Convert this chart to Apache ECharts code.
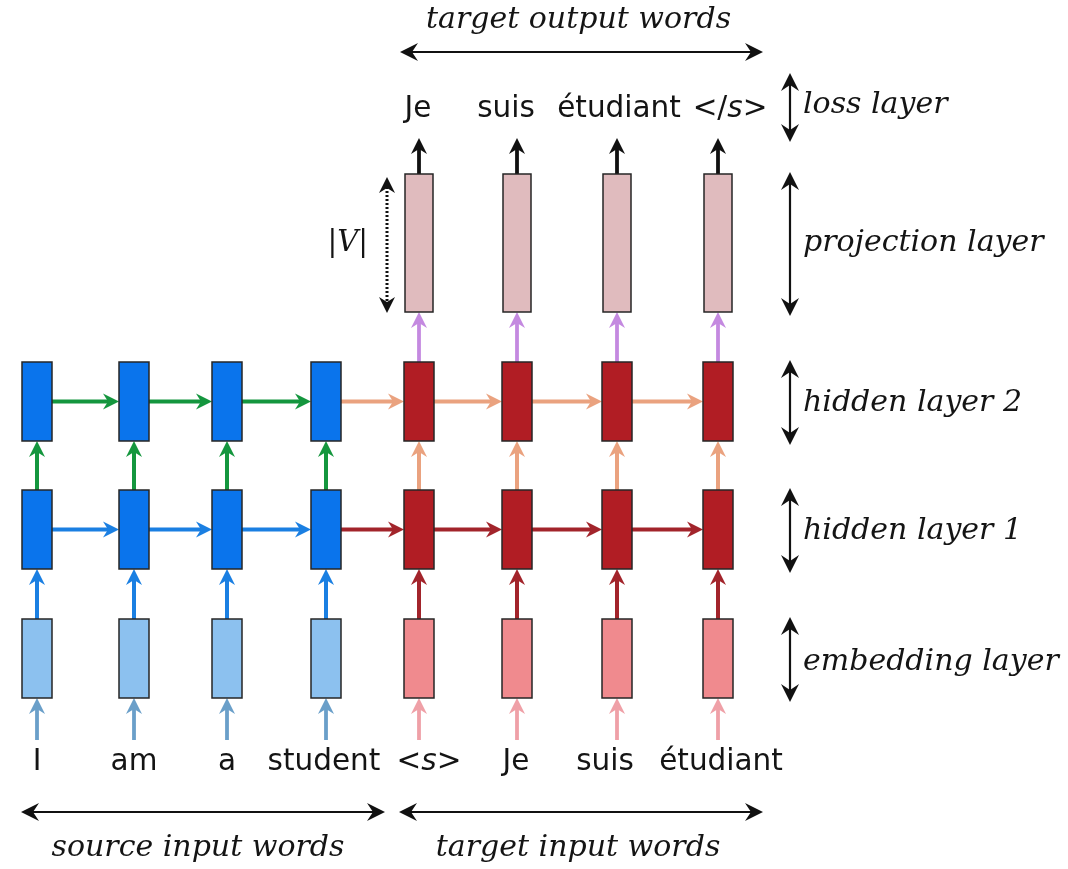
<!DOCTYPE html>
<html><head><meta charset="utf-8">
<script src="https://cdn.jsdelivr.net/npm/echarts@6/dist/echarts.min.js"></script>
<style>html,body{margin:0;padding:0;background:#fff}#c{width:1068px;height:869px}</style>
</head><body><div id="c"></div>
<script>
// ---------- data ----------
const sourceWords = ['I', 'am', 'a', 'student'];
const targetInputWords = ['<s>', 'Je', 'suis', 'étudiant'];
const targetOutputWords = ['Je', 'suis', 'étudiant', '</s>'];
const layerNames = ['embedding layer', 'hidden layer 1', 'hidden layer 2', 'projection layer', 'loss layer'];
// vertical extent of each layer (diagram units, top→bottom)
const layerTop = [619, 490, 362, 174, 73];
const layerBottom = [698, 569, 441, 312, 140];
const groupTitles = ['source input words', 'target input words', 'target output words'];
const vocabLabel = '|V|';

// ---------- layout (diagram units) ----------
const L = {
  w: 1068, h: 869,
  colX: [37, 134, 227, 326, 419, 517, 617, 718],
  inWordX: [37, 134, 227, 324, 429, 516, 605, 721],
  outWordX: [418, 506, 619, 730],
  wordY: 762, wordArrowY: 740, outY: 109, outArrowY: 138,
  annX: 790, annTextX: 803, layerTextY: [662, 531, 403, 243, 105],
  vX: 387, vTextX: 368, vTextY: 243,
  topArrow: [400, 763, 52], titleTopY: 20,
  botLeft: [21, 385, 812], botRight: [399, 763, 812], titleBotY: 848,
  srcTitleX: 198, tgtTitleX: 578
};
const nSrc = sourceWords.length, nTgt = targetInputWords.length, nCol = nSrc + nTgt;

const boxFill = {
  src: ['#8cc1ef', '#0a74ec', '#0a74ec'],
  tgt: ['#f08a8e', '#b11d24', '#b11d24', '#e0bbbe']
};
const arrowStyles = [
  {color: '#6a9fc9', width: 3.8, head: 16, hw: 8, notch: 5},          // 0 source word
  {color: '#1a7fe2', width: 4, head: 16, hw: 8, notch: 5},            // 1 blue
  {color: '#14963e', width: 4, head: 16, hw: 8, notch: 5},            // 2 green
  {color: '#a2242b', width: 4, head: 16, hw: 8, notch: 5},            // 3 dark red
  {color: '#eaa27f', width: 4, head: 16, hw: 8, notch: 5},            // 4 peach
  {color: '#efa0a7', width: 3.8, head: 16, hw: 8, notch: 5},          // 5 target word
  {color: '#c489e0', width: 3.8, head: 16, hw: 8, notch: 5},          // 6 purple
  {color: '#111111', width: 3.8, head: 16, hw: 8, notch: 5},          // 7 black output
  {color: '#111111', width: 2.2, head: 18, hw: 9, notch: 6, dbl: true}, // 8 annotation
  {color: '#111111', width: 3, head: 16, hw: 8, notch: 5, dbl: true, dash: [2, 2]} // 9 dotted
];

// ---------- build marks ----------
const boxes = [];
for (let c = 0; c < nCol; c++) {
  const nl = c < nSrc ? 3 : 4;
  for (let l = 0; l < nl; l++) boxes.push([L.colX[c], l, c]);
}
const mid = l => (layerTop[l] + layerBottom[l]) / 2;
const HB = 15; // half box width
const arrows = [];
for (let c = 0; c < nCol; c++) {
  const src = c < nSrc, x = L.colX[c];
  arrows.push([x, L.wordArrowY, x, layerBottom[0], src ? 0 : 5]);
  arrows.push([x, layerTop[0], x, layerBottom[1], src ? 1 : 3]);
  arrows.push([x, layerTop[1], x, layerBottom[2], src ? 2 : 4]);
  if (c < nCol - 1) {
    const toTgt = c + 1 >= nSrc, x2 = L.colX[c + 1];
    arrows.push([x + HB, mid(1), x2 - HB, mid(1), toTgt ? 3 : 1]);
    arrows.push([x + HB, mid(2), x2 - HB, mid(2), toTgt ? 4 : 2]);
  }
  if (!src) {
    arrows.push([x, layerTop[2], x, layerBottom[3], 6]);
    arrows.push([x, layerTop[3], x, L.outArrowY, 7]);
  }
}
for (let l = 0; l < layerNames.length; l++) {
  const pad = l === 4 ? 0 : 2;
  arrows.push([L.annX, layerTop[l] - pad, L.annX, layerBottom[l] + pad + 2, 8]);
}
arrows.push([L.vX, layerTop[3] + 3, L.vX, layerBottom[3] + 1, 9]);
arrows.push([L.topArrow[0], L.topArrow[2], L.topArrow[1], L.topArrow[2], 8]);
arrows.push([L.botLeft[0], L.botLeft[2], L.botLeft[1], L.botLeft[2], 8]);
arrows.push([L.botRight[0], L.botRight[2], L.botRight[1], L.botRight[2], 8]);

const SANS = '"DejaVu Sans", sans-serif', SERIF = '"DejaVu Serif", serif';
const richWord = t => t.replace(/s(?=>)/, '{o|s}');
const labels = [];
sourceWords.forEach((w, i) => labels.push({x: L.inWordX[i], y: L.wordY, t: w, k: 'sans'}));
targetInputWords.forEach((w, i) => labels.push({x: L.inWordX[nSrc + i], y: L.wordY, t: richWord(w), k: 'sans'}));
targetOutputWords.forEach((w, i) => labels.push({x: L.outWordX[i], y: L.outY, t: richWord(w), k: 'sans'}));
layerNames.forEach((n, l) => labels.push({x: L.annTextX, y: L.layerTextY[l], t: n, k: 'it', a: 'left'}));
labels.push({x: L.srcTitleX, y: L.titleBotY, t: groupTitles[0], k: 'it'});
labels.push({x: L.tgtTitleX, y: L.titleBotY, t: groupTitles[1], k: 'it'});
labels.push({x: (L.topArrow[0] + L.topArrow[1]) / 2 - 3, y: L.titleTopY, t: groupTitles[2], k: 'it'});
labels.push({x: L.vTextX, y: L.vTextY, t: vocabLabel.replace('V', '{i|V}'), k: 'serif', a: 'right'});

// ---------- renderers ----------
function renderBox(params, api) {
  const x = api.value(0), l = api.value(1), c = api.value(2);
  const p1 = api.coord([x, layerTop[l]]), p2 = api.coord([x, layerBottom[l]]);
  const w = l === 3 ? 28 : 30;
  const fill = c < nSrc ? boxFill.src[l] : boxFill.tgt[l];
  return {type: 'rect', shape: {x: p1[0] - w / 2, y: p1[1], width: w, height: p2[1] - p1[1]},
    style: {fill: fill, stroke: '#262626', lineWidth: 1.5}};
}
function renderArrow(params, api) {
  const a = api.coord([api.value(0), api.value(1)]);
  const b = api.coord([api.value(2), api.value(3)]);
  const st = arrowStyles[api.value(4)];
  const dx = b[0] - a[0], dy = b[1] - a[1], len = Math.hypot(dx, dy);
  const ux = dx / len, uy = dy / len, nx = -uy, ny = ux;
  const head = (tip, dx2, dy2) => {
    const bx = tip[0] - dx2 * st.head, by = tip[1] - dy2 * st.head;
    const k = st.head - st.notch;
    return {type: 'polygon', shape: {points: [tip, [bx + nx * st.hw, by + ny * st.hw],
      [tip[0] - dx2 * k, tip[1] - dy2 * k], [bx - nx * st.hw, by - ny * st.hw]]},
      style: {fill: st.color}};
  };
  const k = st.head - st.notch - 1;
  const e = [b[0] - ux * k, b[1] - uy * k];
  const s = st.dbl ? [a[0] + ux * k, a[1] + uy * k] : a;
  const children = [{type: 'line', shape: {x1: s[0], y1: s[1], x2: e[0], y2: e[1]},
    style: {stroke: st.color, lineWidth: st.width, lineDash: st.dash || null}}, head(b, ux, uy)];
  if (st.dbl) children.push(head(a, -ux, -uy));
  return {type: 'group', children: children};
}
function renderLabel(params, api) {
  const lb = labels[params.dataIndex];
  const p = api.coord([api.value(0), api.value(1)]);
  const base = lb.k === 'sans'
    ? {fontFamily: SANS, fontSize: 29.5, fontStyle: 'normal'}
    : lb.k === 'it' ? {fontFamily: SERIF, fontSize: 30, fontStyle: 'italic'}
    : {fontFamily: SERIF, fontSize: 29, fontStyle: 'normal'};
  return {type: 'text', x: p[0], y: p[1], style: Object.assign({
    text: lb.t, fill: '#141414', align: lb.a || 'center', verticalAlign: 'middle',
    rich: {
      i: {fontFamily: SERIF, fontStyle: 'italic', fontSize: base.fontSize, fill: '#141414'},
      o: {fontFamily: SANS, fontStyle: 'italic', fontSize: base.fontSize, fill: '#141414'}
    }
  }, base)};
}

const chart = echarts.init(document.getElementById('c'), null, {renderer: 'canvas'});
chart.setOption({
  backgroundColor: '#ffffff',
  animation: false,
  grid: {left: 0, right: 0, top: 0, bottom: 0},
  xAxis: {type: 'value', min: 0, max: L.w, show: false},
  yAxis: {type: 'value', min: 0, max: L.h, inverse: true, show: false},
  series: [
    {type: 'custom', name: 'arrows', renderItem: renderArrow, data: arrows, z: 1, silent: true},
    {type: 'custom', name: 'boxes', renderItem: renderBox, data: boxes, z: 2, silent: true},
    {type: 'custom', name: 'labels', renderItem: renderLabel, data: labels.map(l => [l.x, l.y]), z: 3, silent: true}
  ]
});
</script></body></html>
